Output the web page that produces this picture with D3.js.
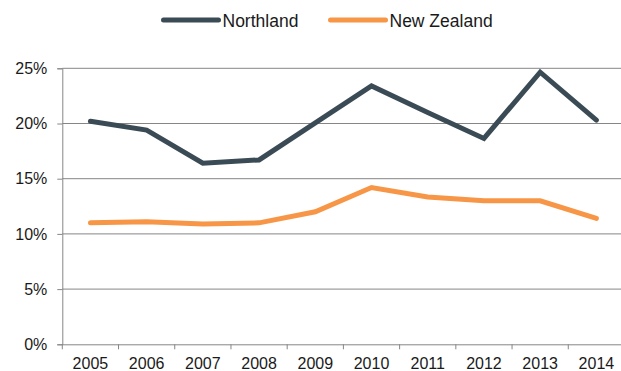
<!DOCTYPE html>
<html>
<head>
<meta charset="utf-8">
<script src="https://cdn.jsdelivr.net/npm/d3@7"></script>
<style>
  html, body { margin: 0; padding: 0; background: #fff; }
  svg { display: block; }
  text { font-family: "Liberation Sans", Arial, sans-serif; fill: #1a1a1a; }
</style>
</head>
<body>
<svg id="chart" width="621" height="371"></svg>
<script>
// Share of population (percent) by year
const years = ["2005","2006","2007","2008","2009","2010","2011","2012","2013","2014"];
const northland = [20.2, 19.4, 16.4, 16.7, 20.05, 23.4, 21.0, 18.65, 24.65, 20.3];
const newZealand = [11.0, 11.1, 10.9, 11.0, 12.0, 14.2, 13.35, 13.0, 13.0, 11.4];
const yTicks = [0, 5, 10, 15, 20, 25];
const seriesNames = ["Northland", "New Zealand"];
const seriesColors = ["#3b4b55", "#f79646"];

const svg = d3.select("#chart");
const plotLeft = 62.3, plotRight = 624.5, plotTop = 68.3, plotBottom = 344.3;

const x = d3.scaleBand().domain(years).range([plotLeft, plotRight]).padding(0);
const y = d3.scaleLinear().domain([0, 25]).range([plotBottom, plotTop]);
const axisColor = "#868686";

// horizontal gridlines
svg.append("g").selectAll("line")
  .data(yTicks.filter(d => d > 0))
  .join("line")
  .attr("x1", plotLeft).attr("x2", 621)
  .attr("y1", d => y(d)).attr("y2", d => y(d))
  .attr("stroke", axisColor).attr("stroke-width", 1);

// y axis
const yAxis = svg.append("g")
  .attr("transform", `translate(${plotLeft},0)`)
  .call(d3.axisLeft(y).tickValues(yTicks).tickSize(5).tickPadding(10).tickFormat(d => d + "%"));
yAxis.select(".domain").attr("stroke", axisColor);
yAxis.selectAll(".tick line").attr("stroke", axisColor);
yAxis.selectAll("text").attr("font-size", 16).attr("fill", "#1a1a1a")
  .attr("font-family", "Liberation Sans, Arial, sans-serif");

// x axis: labels centred in each band, tick marks on band edges
const xAxis = svg.append("g")
  .attr("transform", `translate(0,${plotBottom})`)
  .call(d3.axisBottom(x).tickSize(0).tickPadding(13));
xAxis.select(".domain").attr("stroke", axisColor).attr("d", `M${plotLeft},0.5H${plotRight}`);
xAxis.selectAll("text").attr("font-size", 16).attr("fill", "#1a1a1a")
  .attr("font-family", "Liberation Sans, Arial, sans-serif");
xAxis.append("g").selectAll("line")
  .data(years.concat(["end"]))
  .join("line")
  .attr("x1", d => d === "end" ? plotRight : x(d))
  .attr("x2", d => d === "end" ? plotRight : x(d))
  .attr("y1", 0).attr("y2", 5)
  .attr("stroke", axisColor);

// series lines
const line = d3.line()
  .x((d, i) => x(years[i]) + x.bandwidth() / 2)
  .y(d => y(d));

[northland, newZealand].forEach((vals, k) => {
  svg.append("path")
    .datum(vals)
    .attr("d", line)
    .attr("fill", "none")
    .attr("stroke", seriesColors[k])
    .attr("stroke-width", 5)
    .attr("stroke-linejoin", "miter")
    .attr("stroke-linecap", "round");
});

// legend
const legendX = [163.5, 330.5];
const legend = svg.append("g");
seriesNames.forEach((name, k) => {
  legend.append("line")
    .attr("x1", legendX[k]).attr("x2", legendX[k] + 55)
    .attr("y1", 20).attr("y2", 20)
    .attr("stroke", seriesColors[k]).attr("stroke-width", 5)
    .attr("stroke-linecap", "round");
  legend.append("text")
    .attr("x", legendX[k] + 59).attr("y", 26.5)
    .attr("font-size", 17.5)
    .text(name);
});
</script>
</body>
</html>
